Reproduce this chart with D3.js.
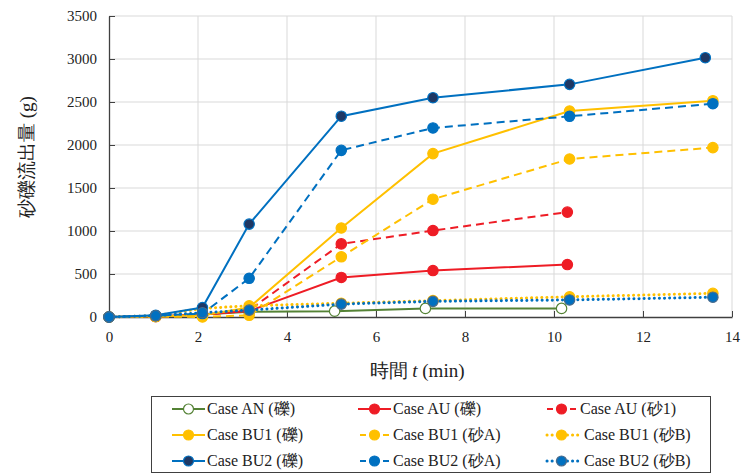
<!DOCTYPE html>
<html>
<head>
<meta charset="utf-8">
<script src="https://cdn.jsdelivr.net/npm/d3@7"></script>
<style>
  body { margin: 0; background: #fff; }
</style>
</head>
<body>
<svg id="chart" width="755" height="474" font-family="Liberation Serif"></svg>
<script>
const width = 755, height = 474;
const margin = {top: 16, right: 23, bottom: 157, left: 109};
const FONT = "Liberation Serif";

// time points (min)
const tAN   = [0, 1.05, 2.1, 3.15, 5.07, 7.11, 10.17];
const tAU   = [0, 1.05, 2.1, 3.15, 5.22, 7.28, 10.3];
const tBU   = [0, 1.05, 2.1, 3.15, 5.22, 7.28, 10.35, 13.57];
const tBU2g = [0, 1.05, 2.1, 3.15, 5.22, 7.28, 10.35, 13.4];

// sediment discharge (g)
const vAN     = [0, 5, 30, 60, 68, 100, 100];
const vAU     = [0, 10, 30, 70, 460, 540, 610];
const vAUs1   = [0, 5, 20, 80, 850, 1005, 1220];
const vBU1    = [0, 10, 20, 110, 1035, 1900, 2395, 2515];
const vBU1sA  = [0, 5, 0, 20, 700, 1370, 1837, 1970];
const vBU1sB  = [0, 15, 100, 130, 160, 190, 235, 275];
const vBU2    = [0, 20, 110, 1080, 2335, 2550, 2705, 3015];
const vBU2sA  = [0, 15, 40, 450, 1938, 2198, 2334, 2480];
const vBU2sB  = [0, 15, 50, 80, 150, 182, 198, 230];

const xTicks = [0, 2, 4, 6, 8, 10, 12, 14];
const yTicks = [0, 500, 1000, 1500, 2000, 2500, 3000, 3500];

const blue = "#0070c0", navy = "#1f3864", yellow = "#ffc000", red = "#ee1c25", green = "#548235";

const series = [
  {name: "Case AN (礫)",    t: tAN, v: vAN,    color: green,  dash: null,  fill: "#fff", mstroke: green},
  {name: "Case AU (礫)",    t: tAU, v: vAU,    color: red,    dash: null,  fill: red,    mstroke: red},
  {name: "Case AU (砂1)",   t: tAU, v: vAUs1,  color: red,    dash: "dash", fill: red,   mstroke: red},
  {name: "Case BU1 (礫)",   t: tBU, v: vBU1,   color: yellow, dash: null,  fill: yellow, mstroke: yellow},
  {name: "Case BU1 (砂A)",  t: tBU, v: vBU1sA, color: yellow, dash: "dash", fill: yellow, mstroke: yellow},
  {name: "Case BU1 (砂B)",  t: tBU, v: vBU1sB, color: yellow, dash: "dot", fill: yellow, mstroke: yellow},
  {name: "Case BU2 (礫)",   t: tBU2g, v: vBU2, color: blue,   dash: null,  fill: navy,   mstroke: blue},
  {name: "Case BU2 (砂A)",  t: tBU, v: vBU2sA, color: blue,   dash: "dash", fill: blue,  mstroke: blue},
  {name: "Case BU2 (砂B)",  t: tBU, v: vBU2sB, color: blue,   dash: "dot", fill: blue,   mstroke: "#4a6a8a"}
];

const svg = d3.select("#chart");

const x = d3.scaleLinear().domain([0, 14]).range([margin.left, width - margin.right]);
const y = d3.scaleLinear().domain([0, 3500]).range([height - margin.bottom, margin.top]);

// grid
svg.append("g").selectAll("line").data(xTicks.slice(1)).join("line")
  .attr("x1", d => x(d)).attr("x2", d => x(d))
  .attr("y1", y(0)).attr("y2", y(3500))
  .attr("stroke", "#d9d9d9").attr("stroke-width", 1);
svg.append("g").selectAll("line").data(yTicks.slice(1)).join("line")
  .attr("x1", x(0)).attr("x2", x(14))
  .attr("y1", d => y(d)).attr("y2", d => y(d))
  .attr("stroke", "#d9d9d9").attr("stroke-width", 1);

// axes
const xAxis = svg.append("g")
  .attr("transform", `translate(0,${y(0)})`)
  .call(d3.axisBottom(x).tickValues(xTicks).tickFormat(d3.format("d"))
    .tickSizeInner(-6).tickSizeOuter(0).tickPadding(14));
const yAxis = svg.append("g")
  .attr("transform", `translate(${x(0)},0)`)
  .call(d3.axisLeft(y).tickValues(yTicks).tickFormat(d3.format("d"))
    .tickSizeInner(-6).tickSizeOuter(0).tickPadding(12));
[xAxis, yAxis].forEach(g => {
  g.attr("font-family", FONT).attr("font-size", 15);
  g.select(".domain").attr("stroke", "#404040").attr("stroke-width", 1.3);
  g.selectAll(".tick line").attr("stroke", "#404040");
  g.selectAll(".tick text")
    .attr("font-family", FONT).attr("font-size", 15).attr("fill", "#222");
});

// axis labels
const xl = svg.append("text")
  .attr("x", 417).attr("y", 377)
  .attr("text-anchor", "middle").attr("fill", "#222")
  .attr("font-family", FONT).attr("font-size", 19);
xl.append("tspan").text("時間 ");
xl.append("tspan").attr("font-style", "italic").text("t");
xl.append("tspan").text(" (min)");
svg.append("text")
  .attr("transform", `translate(33,157) rotate(-90)`)
  .attr("text-anchor", "middle").attr("fill", "#222")
  .attr("font-family", FONT).attr("font-size", 19)
  .text("砂礫流出量 (g)");

function applyDash(sel, dash) {
  if (dash === "dash") sel.attr("stroke-dasharray", "8,5");
  else if (dash === "dot") sel.attr("stroke-dasharray", "0.1,5").attr("stroke-linecap", "round").attr("stroke-width", 3);
}

const line = d3.line().x(d => x(d[0])).y(d => y(d[1]));

series.forEach(s => {
  const pts = s.t.map((t, i) => [t, s.v[i]]);
  const g = svg.append("g");
  const p = g.append("path").datum(pts)
    .attr("d", line).attr("fill", "none")
    .attr("stroke", s.color).attr("stroke-width", 2);
  applyDash(p, s.dash);
  g.selectAll("circle").data(pts).join("circle")
    .attr("cx", d => x(d[0])).attr("cy", d => y(d[1]))
    .attr("r", 5.2)
    .attr("fill", s.fill).attr("stroke", s.mstroke).attr("stroke-width", 1.2);
});

// legend
const legend = svg.append("g");
legend.append("rect")
  .attr("x", 151.5).attr("y", 396.5).attr("width", 559).attr("height", 76)
  .attr("fill", "#fff").attr("stroke", "#404040").attr("stroke-width", 1);
const colX = [172, 358, 545];
const rowY = [409, 435, 461];
series.forEach((s, i) => {
  const cx = colX[i % 3], cy = rowY[Math.floor(i / 3)];
  const l = legend.append("line")
    .attr("x1", cx).attr("x2", cx + 33).attr("y1", cy).attr("y2", cy)
    .attr("stroke", s.color).attr("stroke-width", 2);
  if (s.dash === "dash") l.attr("stroke-dasharray", "6,5.5").attr("stroke-dashoffset", -2);
  else if (s.dash === "dot") l.attr("stroke-dasharray", "0.1,5").attr("stroke-linecap", "round").attr("stroke-width", 3).attr("stroke-dashoffset", -2);
  legend.append("circle")
    .attr("cx", cx + 16.5).attr("cy", cy).attr("r", 5)
    .attr("fill", s.fill).attr("stroke", s.mstroke).attr("stroke-width", 1.2);
  legend.append("text")
    .attr("x", cx + 35 + (s.dash === "dot" ? 4 : 0)).attr("y", cy + 5)
    .attr("fill", "#222")
    .attr("font-family", FONT).attr("font-size", 16)
    .text(s.name);
});
</script>
</body>
</html>
